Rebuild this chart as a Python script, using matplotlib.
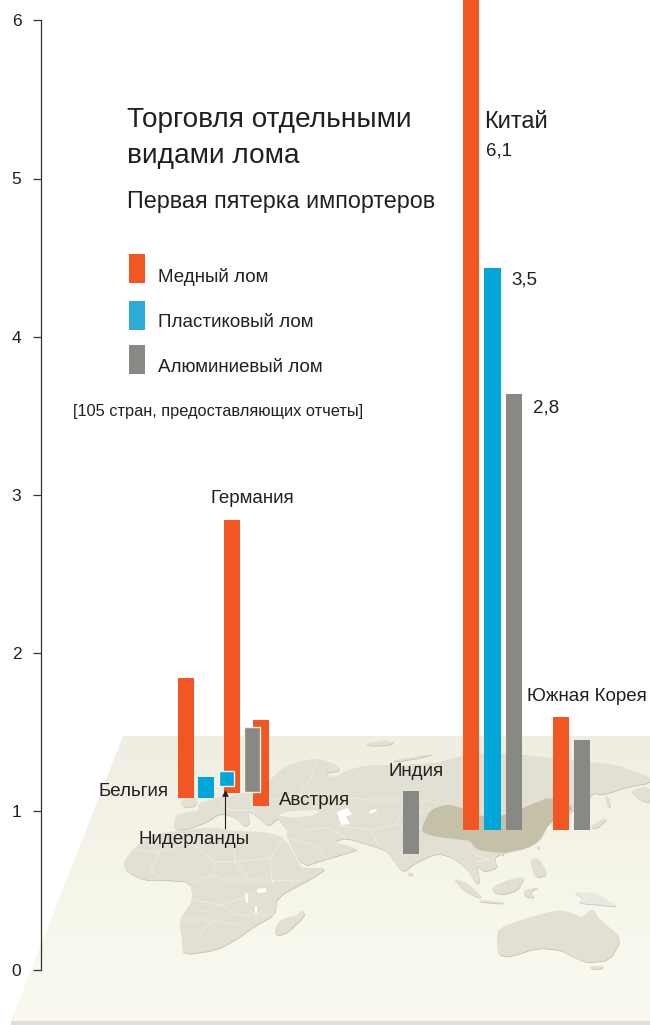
import numpy as np
import matplotlib
matplotlib.use('Agg')
import matplotlib.pyplot as plt
from matplotlib.patches import Polygon, Rectangle

plt.rcParams['font.family'] = ['Liberation Sans', 'DejaVu Sans']

# данные: высота столбика и уровень его основания на карте
copper_names = ['Бельгия', 'Германия', 'Австрия', 'Китай', 'Южная Корея']
copper_values = [0.76, 1.725, 0.54, 6.1, 0.715]
copper_base = [1.084, 1.116, 1.034, 0.882, 0.882]
copper_x = [186, 232, 260.5, 471, 561]

plastic_names = ['Бельгия', 'Нидерланды', 'Китай']
plastic_values = [0.13, 0.09, 3.55]
plastic_base = [1.084, 1.163, 0.882]
plastic_x = [206, 226.5, 492.5]

alu_names = ['Австрия', 'Индия', 'Китай', 'Южная Корея']
alu_values = [0.41, 0.40, 2.755, 0.57]
alu_base = [1.122, 0.73, 0.882, 0.882]
alu_x = [252, 411, 514, 582]

y_ticks = [0, 1, 2, 3, 4, 5, 6]

ORANGE = '#f15623'
BLUE = '#00a6d9'
GREY = '#888884'
LAND = '#e2e0d2'
TXT = '#231f20'

# контуры карты (пиксели картинки)
eurasia = [(173, 826), (176, 815), (187, 812), (199, 811), (198, 804), (217, 797), (232, 796), (252, 790), (270, 780),
           (280, 770), (293, 763), (317, 758), (337, 765), (340, 771), (325, 773), (333, 778), (345, 771), (367, 765),
           (397, 765), (437, 763), (453, 758), (480, 752), (527, 755), (550, 758), (590, 762), (617, 765), (650, 777),
           (650, 783), (627, 787), (603, 795), (592, 793), (588, 803), (572, 806), (574, 811), (560, 817), (552, 814),
           (547, 826), (540, 840), (527, 848), (503, 853), (494, 858), (498, 868), (483, 872), (477, 865), (480, 883),
           (476, 884), (468, 870), (463, 866), (453, 858), (437, 853), (415, 863), (403, 873), (393, 860), (387, 851),
           (370, 845), (345, 838), (333, 842), (352, 847), (358, 850), (327, 859), (302, 867), (287, 838), (287, 829),
           (283, 825), (278, 818), (271, 825), (266, 825), (258, 817), (247, 810), (250, 823), (245, 827), (235, 817),
           (224, 814), (217, 815), (207, 822), (188, 829), (177, 830)]
africa = [(123, 863), (132, 850), (150, 835), (177, 831), (213, 827), (233, 831), (267, 832), (285, 838), (300, 867),
          (305, 868), (327, 868), (313, 878), (277, 897), (275, 915), (253, 927), (240, 937), (217, 950), (183, 955),
          (182, 940), (179, 920), (193, 900), (190, 882), (163, 880), (143, 880), (127, 872)]
madagascar = [(303, 910), (305, 916), (287, 933), (277, 936), (274, 930), (280, 920), (297, 915)]
australia = [(498, 928), (527, 918), (557, 910), (570, 912), (582, 918), (592, 908), (600, 920), (622, 938), (610, 960),
             (587, 963), (573, 957), (560, 950), (537, 948), (510, 957), (498, 955), (497, 940)]
islands = [
    [(590, 966), (603, 966), (602, 969), (591, 969)],
    [(453, 878), (467, 883), (482, 897), (478, 898), (463, 890)],
    [(480, 900), (503, 902), (503, 904), (480, 902)],
    [(492, 887), (513, 878), (525, 877), (518, 890), (503, 895), (493, 892)],
    [(523, 890), (540, 887), (530, 892), (535, 898), (525, 897)],
    [(530, 860), (538, 857), (548, 875), (535, 878)],
    [(590, 827), (603, 818), (607, 820), (596, 829)],
    [(605, 795), (608, 797), (611, 808), (607, 806)],
    [(408, 872), (413, 873), (412, 876), (408, 875)],
    [(536, 846), (540, 846), (538, 850)],
    [(500, 853), (504, 853), (503, 856)],
    [(393, 760), (437, 753), (420, 758), (395, 762)],
    [(370, 743), (387, 740), (385, 742), (372, 745)],
    [(365, 743), (395, 741), (390, 745), (370, 746)],
    [(630, 790), (650, 786), (650, 803), (640, 800)],
    [(180, 800), (196, 795), (196, 806), (184, 808)],
]
new_guinea = [(573, 892), (597, 893), (610, 902), (618, 907), (600, 905), (577, 903), (583, 898)]
china = [(422, 827), (430, 810), (447, 804), (462, 808), (483, 817), (507, 815), (530, 805), (550, 797), (570, 805),
         (573, 810), (557, 818), (547, 827), (540, 840), (527, 848), (503, 853), (493, 852), (477, 850), (470, 841),
         (463, 840), (437, 837), (423, 833)]
lakes = [
    [(337, 812), (347, 808), (352, 814), (346, 817), (350, 824), (341, 825), (339, 818)],
    [(369, 811), (376, 809), (377, 811), (370, 814)],
    [(257, 889), (266, 888), (266, 892), (258, 893)],
    [(245, 893), (248, 894), (248, 903), (246, 902)],
    [(255, 906), (257, 906), (257, 913), (255, 913)],
    [(272, 880), (273, 880), (274, 883), (273, 883)],
]
black_sea = [(277, 815), (290, 811), (320, 810), (316, 815), (290, 818)]
borders = [
    [(132, 850), (160, 852), (190, 842), (213, 827)], [(160, 852), (150, 870), (163, 880)],
    [(190, 842), (215, 862), (213, 875), (190, 882)], [(233, 831), (235, 862), (215, 862)],
    [(235, 862), (270, 858), (285, 838)], [(235, 862), (250, 880), (225, 880), (213, 875)],
    [(270, 858), (272, 880), (250, 880)], [(272, 880), (300, 880)], [(193, 900), (222, 905), (245, 897), (255, 893)],
    [(222, 905), (235, 915), (275, 915)], [(180, 920), (212, 920), (240, 925)],
    [(212, 920), (198, 937), (196, 940)], [(198, 912), (210, 910), (222, 905)],
    [(317, 758), (310, 780), (300, 790)], [(270, 800), (300, 795), (330, 795), (370, 800), (420, 800), (447, 804)],
    [(340, 826), (370, 830), (395, 825), (422, 827)], [(370, 830), (380, 847)], [(300, 830), (330, 828), (345, 838)],
    [(217, 797), (230, 810), (260, 810)], [(250, 797), (254, 815)], [(395, 825), (400, 815), (430, 810)],
    [(470, 850), (478, 856), (490, 860)], [(476, 862), (495, 858)], [(287, 838), (315, 845), (327, 859)],
]
plate_top = [(123, 736), (650, 736), (650, 1021), (11, 1021)]


def smooth(pts):
    # срезаем углы контура, чтобы берега были мягче
    out = []
    for i, (x0, y0) in enumerate(pts):
        x1, y1 = pts[(i + 1) % len(pts)]
        out.append((0.8 * x0 + 0.2 * x1, 0.8 * y0 + 0.2 * y1))
        out.append((0.2 * x0 + 0.8 * x1, 0.2 * y0 + 0.8 * y1))
    return out


fig = plt.figure(figsize=(6.5, 10.25), dpi=100)

# фоновая карта в координатах картинки
ax_map = fig.add_axes([0, 0, 1, 1], zorder=0)
ax_map.axis('off')

grad = np.linspace(0, 1, 100).reshape(-1, 1)
cmap = matplotlib.colors.LinearSegmentedColormap.from_list('plate', ['#f0eee2', '#f6f5ea', '#fafaf0'])
im = ax_map.imshow(grad, extent=(0, 650, 1021, 736), cmap=cmap, aspect='auto', zorder=1)
plate = Polygon(plate_top, transform=ax_map.transData, fc='none', ec='none')
ax_map.add_patch(plate)
im.set_clip_path(plate)
ax_map.set_xlim(0, 650)
ax_map.set_ylim(1025, 0)
ax_map.add_patch(Rectangle((11, 1021), 639, 4, fc=LAND, ec='none', zorder=1))


def land(pts, color=LAND, shadow=True):
    pts = smooth(pts)
    if shadow:
        shifted = [(x + 0.4, y + 0.7) for x, y in pts]
        ax_map.add_patch(Polygon(shifted, fc='#bfbdaf', ec='none', zorder=2))
    ax_map.add_patch(Polygon(pts, fc=color, ec='none', zorder=3))


for shape in [eurasia, africa, madagascar, australia] + islands:
    land(shape)
land(new_guinea, color='#e9e9e1')
ax_map.add_patch(Polygon(smooth(black_sea), fc='#f2f1e6', ec='none', zorder=3))
for b in borders:
    xs, ys = zip(*b)
    ax_map.plot(xs, ys, color='#f0efe5', lw=0.5, zorder=4)
ax_map.add_patch(Polygon(smooth(china), fc='#c5c1a8', ec='none', zorder=5))
for lake in lakes:
    ax_map.add_patch(Polygon(lake, fc='white', ec='none', zorder=5))

# основная ось со шкалой
top_val = 969.5 / 158.2
ax = fig.add_axes([40.5 / 650, 1 - 969.5 / 1025, 1 - 40.5 / 650, 969.5 / 1025], zorder=1)
ax.patch.set_alpha(0)
ax.set_xlim(40.5, 650)
ax.set_ylim(0, top_val)
for s in ['top', 'right', 'bottom']:
    ax.spines[s].set_visible(False)
ax.spines['left'].set_bounds(0, 6)
ax.spines['left'].set_color('#333333')
ax.spines['left'].set_linewidth(0.9)
ax.set_xticks([])
ax.set_yticks(y_ticks)
ax.tick_params(axis='y', length=5.8, width=0.9, color='#333333', pad=8, labelsize=12.5, labelcolor=TXT)

ax.bar(copper_x, copper_values, bottom=copper_base, width=16, color=ORANGE, zorder=2)
ax.bar(plastic_x[0], plastic_values[0], bottom=plastic_base[0], width=16, color=BLUE, zorder=3)
ax.bar(plastic_x[1], plastic_values[1], bottom=plastic_base[1], width=15, color=BLUE, ec='#f4f0e4', lw=1, zorder=4)
ax.bar(plastic_x[2], plastic_values[2], bottom=plastic_base[2], width=17, color=BLUE, zorder=3)
ax.bar(alu_x[0], alu_values[0], bottom=alu_base[0], width=16, color=GREY, ec='#f4f0e4', lw=1, zorder=4)
ax.bar(alu_x[1:], alu_values[1:], bottom=alu_base[1:], width=16, color=GREY, zorder=3)


def label(x, y, s, size=13.5, ha='left'):
    ax.text(x, y + 1.8, s, fontsize=size, color=TXT, ha=ha, va='center', transform=ax_map.transData, zorder=6)


label(127, 118, 'Торговля отдельными', 20.2)
label(127, 154, 'видами лома', 20.2)
label(127, 200, 'Первая пятерка импортеров', 16.8)

for (y0, y1), col in zip([(254, 283), (301, 330), (345, 374)], [ORANGE, '#2eaad6', GREY]):
    ax_map.add_patch(Rectangle((129, y0), 16, y1 - y0, fc=col, ec='none', zorder=6))
label(158, 275, 'Медный лом')
label(158, 321, 'Пластиковый лом')
label(158, 366, 'Алюминиевый лом')
label(73, 410, '[105 стран, предоставляющих отчеты]', 11.8)

label(484, 120, 'Китай', 17)
label(486, 149, '6,1', 13.5)
label(511, 278, '3,5', 13.5)
label(533, 406, '2,8', 13.5)
label(210, 497, 'Германия')
label(527, 695, 'Южная Корея')
label(389, 770, 'Индия')
label(98, 790, 'Бельгия')
label(279, 799, 'Австрия')
label(139, 838, 'Нидерланды')

ax.annotate('', xy=(225.5, 790), xytext=(225.5, 829), xycoords=ax_map.transData, textcoords=ax_map.transData,
            arrowprops=dict(arrowstyle='-|>', color='#231f20', lw=0.8, mutation_scale=9, shrinkA=0, shrinkB=0), zorder=6)

fig.savefig('out.png', dpi=100)
